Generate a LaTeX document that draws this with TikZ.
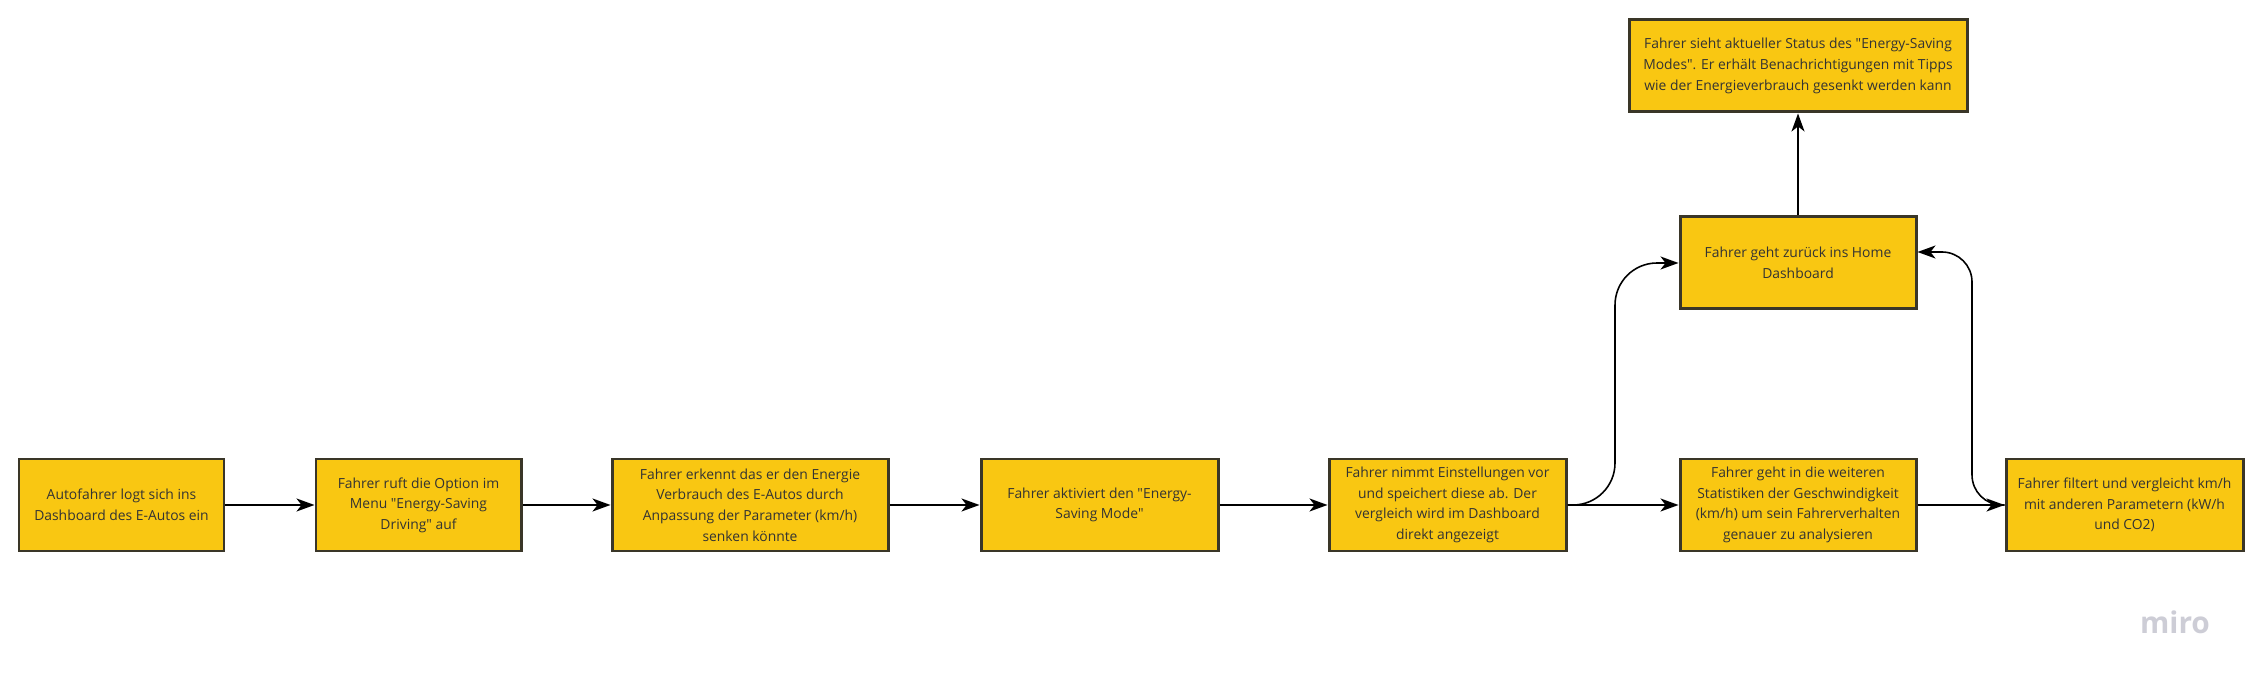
\documentclass[tikz,border=0pt]{standalone}
\usepackage{fontspec}
\setmainfont{Open Sans}[Ligatures=TeXOff]
\usetikzlibrary{arrows.meta}
\definecolor{miroyellow}{HTML}{F9C712}
\definecolor{boxline}{HTML}{3A3628}
\definecolor{mirogray}{HTML}{CDCDD6}

\begin{document}
\begin{tikzpicture}[
    actbox/.style={draw=boxline, line width=0.85pt, fill=miroyellow, minimum height=0.92cm, inner sep=0pt, align=center, text=black!80, font=\fontsize{3.95}{5.87}\selectfont},
    flow/.style={line width=0.45pt, -{Stealth[length=1.8mm, width=1.3mm, inset=0.5mm]}}
]
    \useasboundingbox (0,0) rectangle (22.63,6.9);

    % Main row (left to right)

    \node[actbox, minimum width=2.05cm] (login) at (1.215, 1.85) {Autofahrer logt sich ins\\Dashboard des E-Autos ein};

    \node[actbox, minimum width=2.05cm] (menu) at (4.185, 1.85) {Fahrer ruft die Option im\\Menu "Energy-Saving\\Driving" auf};

    \node[actbox, minimum width=2.76cm] (erkennt) at (7.50, 1.85) {Fahrer erkennt das er den Energie\\Verbrauch des E-Autos durch\\Anpassung der Parameter (km/h)\\senken könnte};

    \node[actbox, minimum width=2.37cm] (aktiv) at (10.995, 1.85) {Fahrer aktiviert den "Energy-\\Saving Mode"};

    \node[actbox, minimum width=2.37cm] (settings) at (14.475, 1.85) {Fahrer nimmt Einstellungen vor\\und speichert diese ab. Der\\vergleich wird im Dashboard\\direkt angezeigt};

    \node[actbox, minimum width=2.36cm] (stats) at (17.98, 1.85) {Fahrer geht in die weiteren\\Statistiken der Geschwindigkeit\\(km/h) um sein Fahrerverhalten\\genauer zu analysieren};

    \node[actbox, minimum width=2.37cm] (filter) at (21.245, 1.85) {Fahrer filtert und vergleicht km/h\\mit anderen Parametern (kW/h\\und CO2)};

    % Upper column

    \node[actbox, minimum width=2.36cm] (home) at (17.98, 4.27) {Fahrer geht zurück ins Home\\Dashboard};

    \node[actbox, minimum width=3.38cm] (status) at (17.98, 6.24) {Fahrer sieht aktueller Status des "Energy-Saving\\Modes". Er erhält Benachrichtigungen mit Tipps\\wie der Energieverbrauch gesenkt werden kann};

    % Straight connectors

    \draw[flow] (login) -- (menu);
    \draw[flow] (menu) -- (erkennt);
    \draw[flow] (erkennt) -- (aktiv);
    \draw[flow] (aktiv) -- (settings);
    \draw[flow] (settings) -- (stats);
    \draw[flow] (stats) -- (filter);
    \draw[flow] (home) -- (status);

    % Curved connectors to the home dashboard

    \coordinate (bendL) at (16.15, 3.0);
    \coordinate (bendR) at (19.72, 3.0);
    \draw[flow, rounded corners=0.42cm] (settings.east) -| (bendL) |- (home.west);
    \draw[flow, rounded corners=0.3cm] (filter.west) -| (bendR) |- ([yshift=1.1mm]home.east);

    % Watermark

    \node[text=mirogray, font=\fontsize{8.5}{10}\selectfont\bfseries, anchor=base] (miro) at (21.75, 0.56) {miro};

\end{tikzpicture}
\end{document}
